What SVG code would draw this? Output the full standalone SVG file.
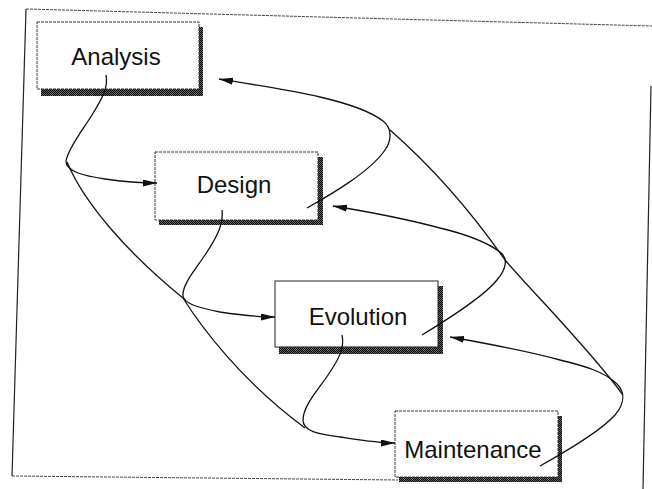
<svg xmlns="http://www.w3.org/2000/svg" width="652" height="489" viewBox="0 0 652 489">
  <defs>
    <!-- dotted-texture fill for the drop shadows -->
    <pattern id="chk" width="2" height="2" patternUnits="userSpaceOnUse">
      <rect width="2" height="2" fill="#666"/>
      <rect width="1" height="1" fill="#000"/>
      <rect x="1" y="1" width="1" height="1" fill="#000"/>
    </pattern>
    <marker id="arr" markerUnits="userSpaceOnUse" markerWidth="15" markerHeight="8" refX="14" refY="3.5" orient="auto">
      <path d="M0,0 L14,3.5 L0,7 z" fill="#111"/>
    </marker>
  </defs>
  <style>
    .frame-solid { fill: none; stroke: #222; stroke-width: 1.2; }
    .frame-dot { fill: none; stroke: #444; stroke-width: 1; stroke-dasharray: 3 1; }
    .shadow { fill: url(#chk); }
    .box { fill: #fff; stroke: #333; stroke-width: 1; stroke-dasharray: 3 1; }
    .box-solid { fill: #fff; stroke: #222; stroke-width: 1; }
    .label { font-family: "Liberation Sans", Arial, sans-serif; font-size: 24px; fill: #111; text-anchor: middle; }
    .conn { fill: none; stroke: #111; stroke-width: 1.3; }
  </style>
  <rect width="652" height="489" fill="#fff"/>

  <!-- outer frame -->
  <g id="frame">
    <path class="frame-solid" d="M26,9 L12,476"/>
    <path class="frame-dot" d="M26,9 L652,26"/>
    <path class="frame-solid" d="M651,86 L643,489"/>
    <path class="frame-dot" d="M12,476 L398,480"/>
  </g>

  <g id="analysis">
    <rect class="shadow" x="41" y="27" width="162" height="69"/>
    <rect class="box" x="37" y="22" width="162" height="67"/>
    <text class="label" x="116" y="65">Analysis</text>
  </g>

  <g id="design">
    <rect class="shadow" x="159" y="157" width="164" height="68"/>
    <rect class="box" x="155" y="152" width="163" height="68"/>
    <text class="label" x="234" y="193">Design</text>
  </g>

  <g id="evolution">
    <rect class="shadow" x="279" y="286" width="164" height="68"/>
    <rect class="box-solid" x="275" y="281" width="163" height="66"/>
    <text class="label" x="358" y="325">Evolution</text>
  </g>

  <g id="maintenance">
    <rect class="shadow" x="399" y="416" width="163" height="66"/>
    <rect class="box" x="395" y="411" width="163" height="66"/>
    <text class="label" x="473" y="458">Maintenance</text>
  </g>

  <g id="connectors">
    <!-- forward flow on the left -->
    <path class="conn" marker-end="url(#arr)" d="M106,75 C109,88 100,102 92,115 C84,128 68,148 66,161 C66,172 85,176 105,179 C125,182 140,183 157,183"/>
    <path class="conn" marker-end="url(#arr)" d="M222,210 C224,225 215,240 205,255 C195,270 182,285 183,296 C184,304 200,308 220,312 C240,315 258,317 275,317"/>
    <path class="conn" marker-end="url(#arr)" d="M342,335 C345,348 338,360 330,372 C320,388 303,405 303,420 C303,432 320,434 340,437 C360,440 378,443 395,443"/>
    <path class="conn" d="M67,162 C85,205 130,255 183,298 C200,325 240,380 305,428"/>

    <!-- feedback on the right -->
    <path class="conn" marker-end="url(#arr)" d="M307,208 C330,195 370,172 385,150 C392,140 392,128 383,121 C370,111 350,104 320,97 C290,90 250,84 219,79"/>
    <path class="conn" marker-end="url(#arr)" d="M422,335 C450,318 485,295 497,280 C507,268 508,258 500,252 C488,243 465,234 440,228 C410,220 370,212 333,206"/>
    <path class="conn" marker-end="url(#arr)" d="M540,466 C565,452 600,432 615,415 C625,403 625,392 617,384 C605,372 585,366 560,360 C530,352 490,344 450,337"/>
    <path class="conn" d="M390,130 C430,165 470,210 505,260 C540,300 590,350 623,395"/>
  </g>
</svg>
